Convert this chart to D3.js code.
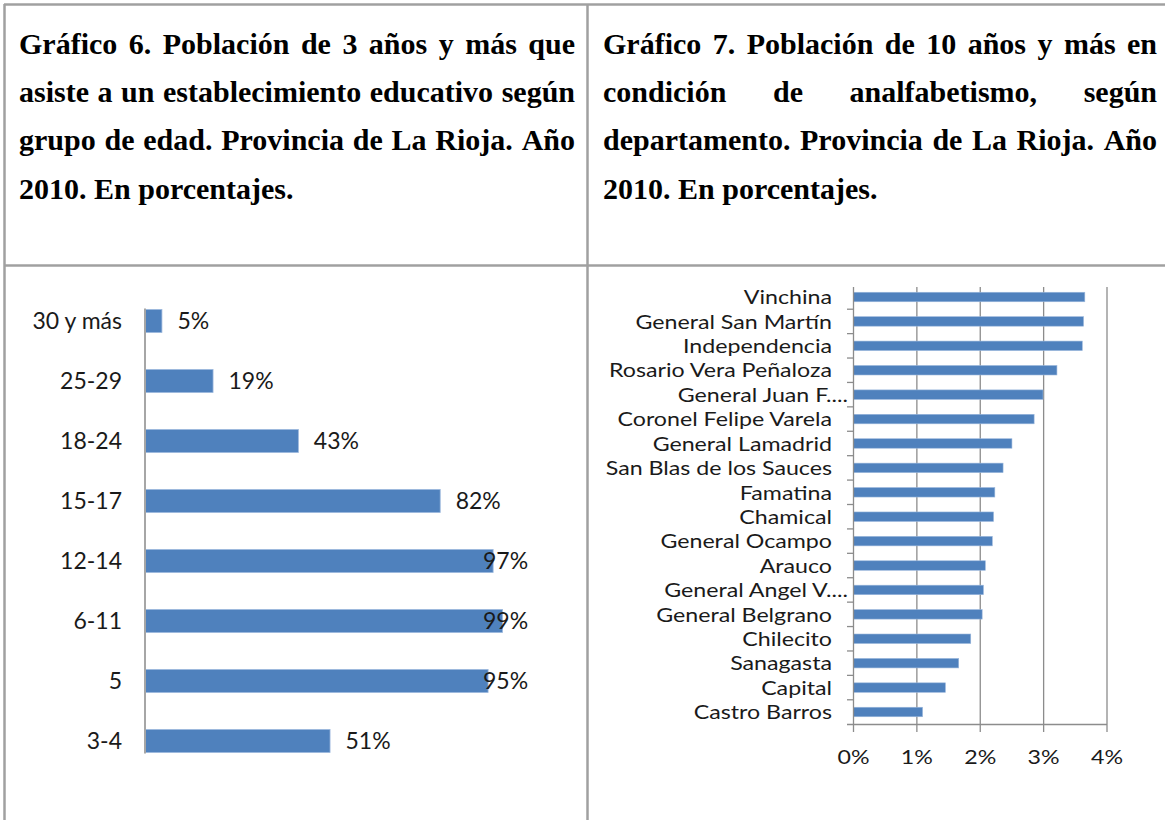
<!DOCTYPE html>
<html lang="es">
<head>
<meta charset="UTF-8">
<title>Gráficos 6 y 7</title>
<script src="https://cdn.jsdelivr.net/npm/d3@7"></script>
<style>
    body { margin: 0; background: #ffffff; }
    .title { font-family: "Liberation Serif", "Times New Roman", serif; font-weight: bold; font-size: 30px; fill: #000; }
    .lbl { font-family: Lato, "Open Sans", sans-serif; font-size: 23px; fill: #1a1a1a; }
    .lbl7 { font-family: Lato, "Open Sans", sans-serif; font-size: 20px; fill: #1a1a1a; }
</style>
</head>
<body>
<svg id="page" width="1165" height="820"></svg>
<script>
// chart 6
const ageGroups = ["30 y más", "25-29", "18-24", "15-17", "12-14", "6-11", "5", "3-4"];
const attendPct = [4.7, 18.9, 42.6, 82, 96.7, 99.3, 95.3, 51.4];

// chart 7
const departments = ["Vinchina", "General San Martín", "Independencia", "Rosario Vera Peñaloza",
    "General Juan F....", "Coronel Felipe Varela", "General Lamadrid", "San Blas de los Sauces",
    "Famatina", "Chamical", "General Ocampo", "Arauco", "General Angel V....", "General Belgrano",
    "Chilecito", "Sanagasta", "Capital", "Castro Barros"];
const illiteracyPct = [3.65, 3.63, 3.61, 3.21, 2.99, 2.85, 2.50, 2.36, 2.23, 2.21, 2.19, 2.08, 2.05, 2.03, 1.85, 1.66, 1.45, 1.09];
const pctTicks = [0, 1, 2, 3, 4];

const title6Lines = ["Gráfico 6. Población de 3 años y más que",
    "asiste a un establecimiento educativo según",
    "grupo de edad. Provincia de La Rioja. Año",
    "2010. En porcentajes."];
const title7Lines = ["Gráfico 7. Población de 10 años y más en",
    "condición de analfabetismo, según",
    "departamento. Provincia de La Rioja. Año",
    "2010. En porcentajes."];

const svg = d3.select("#page");
const barColor = "#4f81bd";
const borderColor = "#a0a0a0";
const stretch = 1.16; // labels of chart 7 are drawn narrow-tall in the original

// table borders
const borders = [[4, 4.5, 1165, 4.5], [4.5, 4, 4.5, 820], [587.5, 4, 587.5, 820], [4, 265.5, 1165, 265.5]];
svg.selectAll("line.border").data(borders).join("line")
    .attr("class", "border")
    .attr("x1", d => d[0]).attr("y1", d => d[1]).attr("x2", d => d[2]).attr("y2", d => d[3])
    .attr("stroke", borderColor).attr("stroke-width", 2.5);

// justified titles
function drawTitle(lines, x0, x1) {
    const g = svg.append("g");
    lines.forEach((line, i) => {
        const words = line.split(" ");
        const t = g.append("text").attr("class", "title").attr("y", 54 + i * 48.2);
        const spans = words.map(w => t.append("tspan").text(w));
        const widths = spans.map(s => s.node().getComputedTextLength());
        const total = d3.sum(widths);
        const last = i === lines.length - 1;
        const gap = last ? 30 * 0.25 : (x1 - x0 - total) / (words.length - 1);
        let x = x0;
        spans.forEach((s, k) => { s.attr("x", x); x += widths[k] + gap; });
    });
}
drawTitle(title6Lines, 19, 575);
drawTitle(title7Lines, 603, 1157);

// ---- chart 6: attendance by age group
const x6 = d3.scaleLinear().domain([0, 100]).range([145, 505]);
const y6 = d3.scalePoint().domain(ageGroups).range([321, 741]);
const bh6 = 23;
const g6 = svg.append("g");

g6.selectAll("rect").data(ageGroups).join("rect")
    .attr("x", x6(0))
    .attr("y", d => y6(d) - bh6 / 2)
    .attr("width", (d, i) => x6(attendPct[i]) - x6(0))
    .attr("height", bh6)
    .attr("fill", barColor)
    .attr("stroke", "#9bb7dc").attr("stroke-width", 0.8);

g6.append("line")
    .attr("x1", 145).attr("x2", 145)
    .attr("y1", y6(ageGroups[0]) - bh6 / 2 - 1).attr("y2", y6(ageGroups[ageGroups.length - 1]) + bh6 / 2 + 1)
    .attr("stroke", "#a6a6a6").attr("stroke-width", 2);

g6.selectAll("text.cat").data(ageGroups).join("text")
    .attr("class", "lbl cat")
    .attr("x", 122).attr("y", d => y6(d)).attr("dy", "0.35em")
    .attr("text-anchor", "end")
    .text(d => d);

g6.selectAll("text.val").data(ageGroups).join("text")
    .attr("class", "lbl val")
    .attr("x", (d, i) => Math.min(x6(attendPct[i]) + 15.5, 483))
    .attr("y", d => y6(d)).attr("dy", "0.35em")
    .text((d, i) => Math.round(attendPct[i]) + "%");

// ---- chart 7: illiteracy by department
const x7 = d3.scaleLinear().domain([0, 4]).range([853.5, 1107]);
const y7 = d3.scaleBand().domain(departments).range([284.8, 724.2]);
const bh7 = 9.5;
const g7 = svg.append("g");

g7.selectAll("line.grid").data(pctTicks.slice(1)).join("line")
    .attr("class", "grid")
    .attr("x1", d => x7(d)).attr("x2", d => x7(d))
    .attr("y1", 287).attr("y2", 732)
    .attr("stroke", "#8c8c8c").attr("stroke-width", 1.3);

g7.selectAll("rect").data(departments).join("rect")
    .attr("x", x7(0))
    .attr("y", d => y7(d) + y7.bandwidth() / 2 - bh7 / 2)
    .attr("width", (d, i) => x7(illiteracyPct[i]) - x7(0))
    .attr("height", bh7)
    .attr("fill", barColor)
    .attr("stroke", "#9bb7dc").attr("stroke-width", 0.6);

// category axis with ticks between bands
g7.append("line")
    .attr("x1", x7(0)).attr("x2", x7(0)).attr("y1", 287).attr("y2", 732)
    .attr("stroke", "#8c8c8c").attr("stroke-width", 1.3);
g7.selectAll("line.ctick").data(departments.slice(1)).join("line")
    .attr("class", "ctick")
    .attr("x1", 847).attr("x2", x7(0))
    .attr("y1", d => y7(d)).attr("y2", d => y7(d))
    .attr("stroke", "#8c8c8c").attr("stroke-width", 1.3);
g7.append("line")
    .attr("x1", 847).attr("x2", x7(4)).attr("y1", 724.5).attr("y2", 724.5)
    .attr("stroke", "#8c8c8c").attr("stroke-width", 1.3);

g7.selectAll("text.cat").data(departments).join("text")
    .attr("class", "lbl7 cat")
    .attr("transform", d => `translate(${d.endsWith("....") ? 848 : 832},${y7(d) + y7.bandwidth() / 2}) scale(${stretch},1)`)
    .attr("dy", "0.36em")
    .attr("text-anchor", "end")
    .text(d => d);

g7.selectAll("text.tick").data(pctTicks).join("text")
    .attr("class", "lbl7 tick")
    .attr("transform", d => `translate(${x7(d)},757) scale(${stretch},1)`)
    .attr("dy", "0.36em")
    .attr("text-anchor", "middle")
    .text(d => d + "%");
</script>
</body>
</html>
